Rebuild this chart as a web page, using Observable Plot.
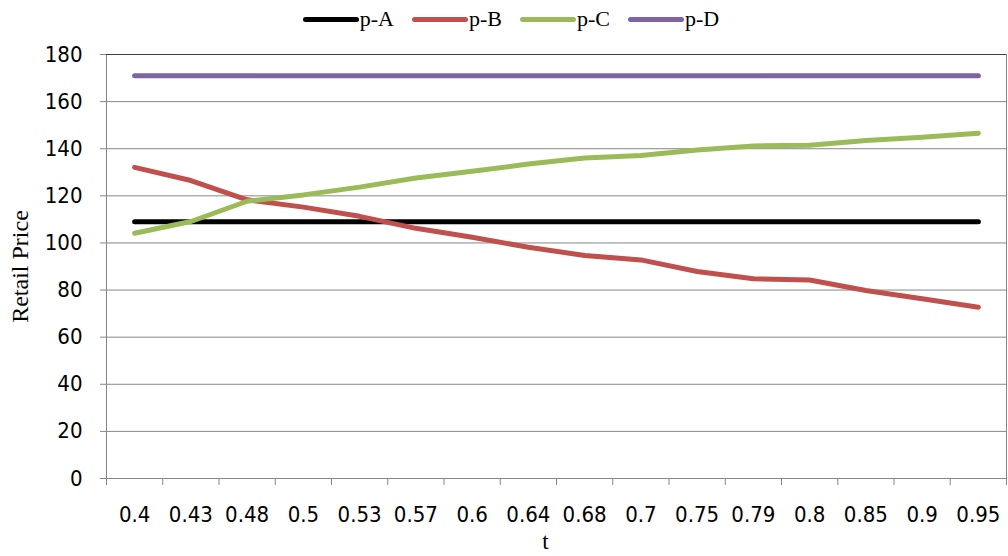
<!DOCTYPE html>
<html><head><meta charset="utf-8">
<script src="https://cdn.jsdelivr.net/npm/d3@7"></script>
<script src="https://cdn.jsdelivr.net/npm/@observablehq/plot@0.6"></script>
<style>
body{margin:0;background:#fff;}
#legend{height:38px;display:flex;justify-content:center;align-items:center;font-family:"Liberation Serif","Times New Roman",serif;font-size:22px;padding-left:14px;box-sizing:border-box;}
.item{display:flex;align-items:center;margin:0 9px;}
.sw{width:56px;height:5px;border-radius:3px;margin-right:1px;}
</style></head>
<body><div id="legend"></div><div id="chart"></div>
<script>
const categories = ["0.4","0.43","0.48","0.5","0.53","0.57","0.6","0.64","0.68","0.7","0.75","0.79","0.8","0.85","0.9","0.95"];
const seriesNames = ["p-A","p-B","p-C","p-D"];
const pA = [109,109,109,109,109,109,109,109,109,109,109,109,109,109,109,109];
const pB = [132.1,126.5,118.3,115.2,111.3,106.2,102.4,98.2,94.7,92.8,87.9,84.8,84.3,79.8,76.3,72.7];
const pC = [104.1,109.1,117.7,120.4,123.7,127.6,130.4,133.5,136.1,137.1,139.5,141.2,141.5,143.5,144.9,146.6];
const pD = [171,171,171,171,171,171,171,171,171,171,171,171,171,171,171,171];
const colors = ["#000000","#C0504D","#9BBB59","#8064A2"];
const yTicks = [0,20,40,60,80,100,120,140,160,180];

const allSeries = [pA,pB,pC,pD];
const data = [];
allSeries.forEach((vals, s) => vals.forEach((v, i) => data.push({series: seriesNames[s], i, v})));
const idx = d3.range(categories.length);
const bounds = d3.range(categories.length + 1).map(i => i - 0.5);

const legend = document.getElementById("legend");
seriesNames.forEach((n, k) => {
  const it = document.createElement("div"); it.className = "item";
  const sw = document.createElement("div"); sw.className = "sw"; sw.style.background = colors[k];
  const t = document.createElement("span"); t.textContent = n;
  it.appendChild(sw); it.appendChild(t); legend.appendChild(it);
});

const tickFont = "'DejaVu Sans Condensed','Liberation Sans Narrow',sans-serif";
const chart = Plot.plot({
  width: 1008, height: 518,
  marginTop: 16, marginBottom: 78, marginLeft: 106, marginRight: 2,
  style: {fontFamily: tickFont, fontSize: "22px", color: "#000", background: "#fff"},
  x: {type: "linear", domain: [-0.5, categories.length - 0.5], axis: null},
  y: {domain: [0, 180], axis: null},
  color: {domain: seriesNames, range: colors},
  marks: [
    Plot.gridY(yTicks, {stroke: "#868686", strokeOpacity: 1}),
    Plot.frame({stroke: "#868686"}),
    Plot.ruleY([180], {stroke: "#404040"}),
    Plot.axisY(yTicks, {tickSize: 6, tickPadding: 18, stroke: "#868686", fontSize: 22, label: null}),
    Plot.axisY([], {label: "Retail Price", labelAnchor: "center", labelArrow: "none", labelOffset: 96, fontFamily: "'Liberation Serif',serif", fontSize: 24}),
    Plot.axisX(bounds, {tickSize: 7, tickFormat: () => "", stroke: "#868686", label: null}),
    Plot.axisX(idx, {tickSize: 0, tickPadding: 28, tickFormat: i => categories[i], fontSize: 22, label: null}),
    Plot.text(["t"], {frameAnchor: "bottom", dy: 70, dx: -11, fontFamily: "'Liberation Serif',serif", fontSize: 23}),
    Plot.lineY(data, {x: "i", y: "v", z: "series", stroke: "series", strokeWidth: 5, strokeLinecap: "round", strokeLinejoin: "round"})
  ]
});
document.getElementById("chart").appendChild(chart);
</script></body></html>
